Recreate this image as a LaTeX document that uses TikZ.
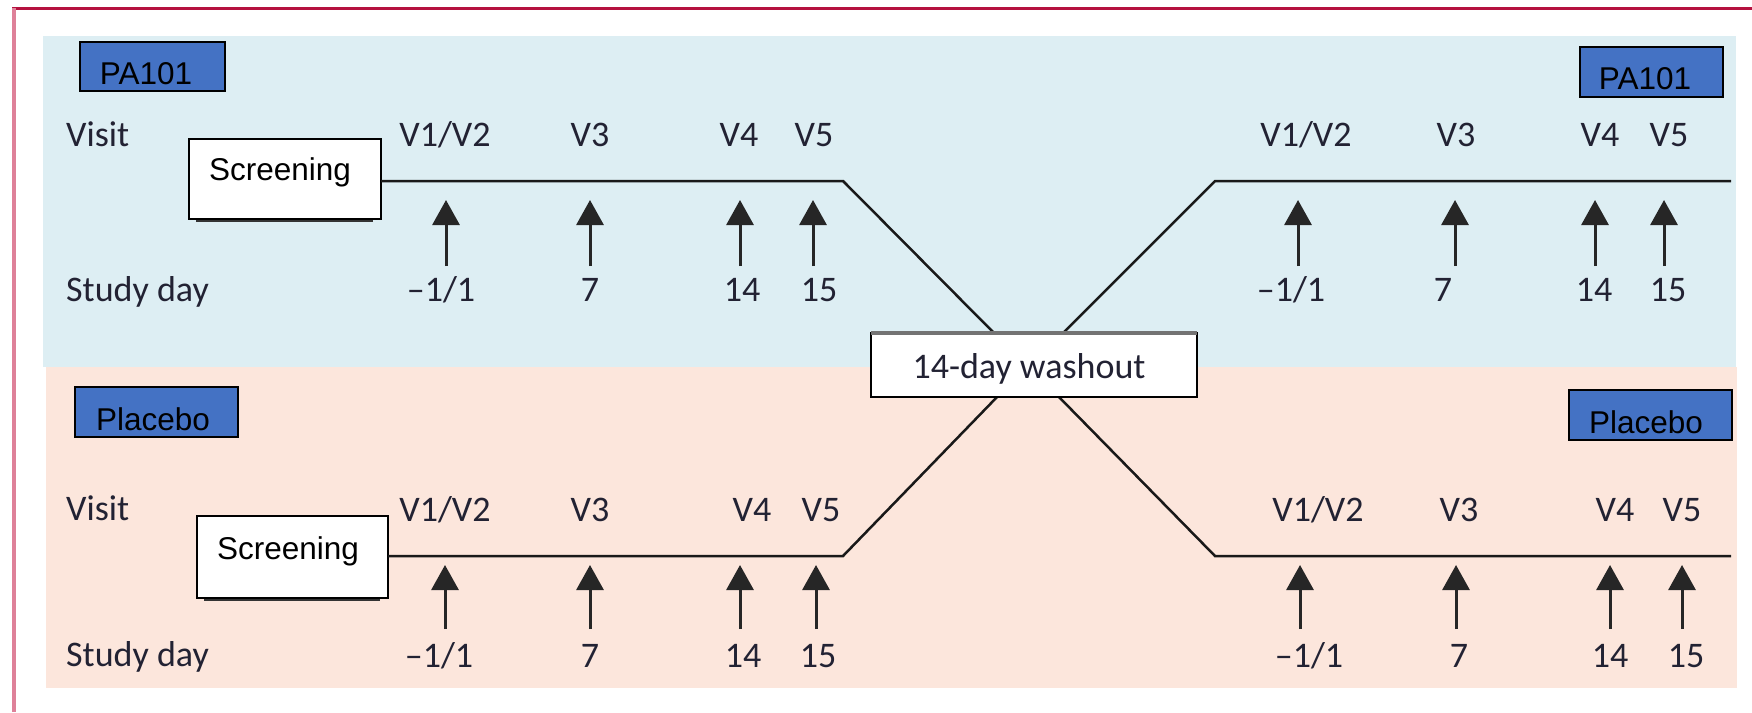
\documentclass[tikz,border=0pt]{standalone}
\usepackage{fontspec}
\setmainfont{Liberation Sans}
\newfontfamily\lancetfont{Carlito}
\usetikzlibrary{arrows.meta,calc}
\definecolor{panelblue}{HTML}{DDEEF3}
\definecolor{panelpeach}{HTML}{FCE6DC}
\definecolor{armblue}{HTML}{4472C4}
\definecolor{framered}{HTML}{B5123F}
\definecolor{framepink}{HTML}{DE8199}
\definecolor{txt}{HTML}{222233}
\tikzset{
  armbox/.style={draw=black, line width=2.5pt, fill=armblue, inner sep=0pt, outer sep=0pt},
  scrbox/.style={draw=black, line width=2.5pt, fill=white, inner sep=0pt, outer sep=0pt},
  armtext/.style={font=\fontsize{31.5}{36}\selectfont, text=black, inner sep=0pt, anchor=base},
  lbl/.style={font=\lancetfont\fontsize{36}{40}\selectfont, text=txt, inner sep=0pt, anchor=base},
  lblw/.style={lbl, anchor=base west},
  tl/.style={draw=black!90, line width=2.5pt},
  uparrow/.style={draw=black!85, line width=3pt, -{Triangle[width=27pt,length=25pt]}},
}
\begin{document}
\begin{tikzpicture}[x=1pt,y=-1pt]
\useasboundingbox (0,0) rectangle (1752,712);
\fill[white] (0,0) rectangle (1752,712);
% panels
\fill[panelblue] (43,36) rectangle (1736,367);
\fill[panelpeach] (46,367) rectangle (1737,688);
% frame
\draw[framered, line width=3pt] (12,8) -- (1752,8);
\draw[framepink, line width=4pt] (14,8) -- (14,712);

% arm boxes
\node[armbox, minimum width=145pt, minimum height=49pt] (pa1) at (152.5,66.5) {};
\node[armtext] (pa1t) at (146,84) {PA101};
\node[armbox, minimum width=143pt, minimum height=50pt] (pa2) at (1651.5,72) {};
\node[armtext] (pa2t) at (1645,89) {PA101};
\node[armbox, minimum width=163pt, minimum height=50pt] (pl1) at (156.5,412) {};
\node[armtext] (pl1t) at (153,430) {Placebo};
\node[armbox, minimum width=163pt, minimum height=50pt] (pl2) at (1650.5,415) {};
\node[armtext] (pl2t) at (1646,433) {Placebo};

% screening boxes (with slight shadow)
\fill[black!80] (196,141) rectangle (373,222);
\node[scrbox, minimum width=192pt, minimum height=80pt] (scr1) at (285,179) {};
\node[armtext] (scr1t) at (280,180) {Screening};
\fill[black!80] (204,518) rectangle (380,601);
\node[scrbox, minimum width=191pt, minimum height=82pt] (scr2) at (292.5,557) {};
\node[armtext] (scr2t) at (288,559) {Screening};

% timeline coordinates
\coordinate (b1) at (843,181);
\coordinate (w1) at (995,334);
\coordinate (w2) at (1062,334);
\coordinate (b2) at (1215,181);
\coordinate (e1) at (1731,181);
\coordinate (b3) at (843,556);
\coordinate (w3) at (998,396);
\coordinate (w4) at (1058,396);
\coordinate (b4) at (1215,556);
\coordinate (e2) at (1731,556);
\draw[tl] (scr1.east |- b1) -- (b1) -- (w1);
\draw[tl] (w2) -- (b2) -- (e1);
\draw[tl] (scr2.east |- b3) -- (b3) -- (w3);
\draw[tl] (w4) -- (b4) -- (e2);

% washout box
\node[scrbox, minimum width=326pt, minimum height=64pt] (wash) at (1034,365) {};
\draw[black!55, line width=4.5pt] (wash.north west) -- (wash.north east);
\node[lbl] (washt) at (1029,378) {14-day washout};

% row labels
\node[lblw] (visit1) at (66,146) {Visit};
\node[lblw] (day1) at (66,301) {Study day};
\node[lblw] (visit2) at (66,520) {Visit};
\node[lblw] (day2) at (66,666) {Study day};

% visit labels
\foreach \x/\t/\n in {445/V1\slash V2/a,590/V3/b,739/V4/c,814/V5/d,1306/V1\slash V2/e,1456/V3/f,1600/V4/g,1669/V5/h}
  \node[lbl] (tv\n) at (\x,146) {\t};
\foreach \x/\t/\n in {445/V1\slash V2/a,590/V3/b,752/V4/c,821/V5/d,1318/V1\slash V2/e,1459/V3/f,1615/V4/g,1682/V5/h}
  \node[lbl] (bv\n) at (\x,521) {\t};
% study day numbers
\foreach \x/\t/\n in {441/–1\slash 1/a,590/7/b,742/14/c,819/15/d,1291/–1\slash 1/e,1443/7/f,1594/14/g,1668/15/h}
  \node[lbl] (td\n) at (\x,301) {\t};
\foreach \x/\t/\n in {439/–1\slash 1/a,590/7/b,743/14/c,818/15/d,1309/–1\slash 1/e,1459/7/f,1610/14/g,1686/15/h}
  \node[lbl] (bd\n) at (\x,667) {\t};

% arrows
\foreach \x/\n in {446/a,590/b,740/c,813/d,1298/e,1455/f,1595/g,1664/h}{
  \coordinate (ts\n) at (\x,266);
  \coordinate (tt\n) at (\x,200);
  \draw[uparrow] (ts\n) -- (tt\n);
}
\foreach \x/\n in {445/a,590/b,740/c,816/d,1300/e,1456/f,1610/g,1682/h}{
  \coordinate (bs\n) at (\x,629);
  \coordinate (bt\n) at (\x,565);
  \draw[uparrow] (bs\n) -- (bt\n);
}
\end{tikzpicture}
\end{document}
